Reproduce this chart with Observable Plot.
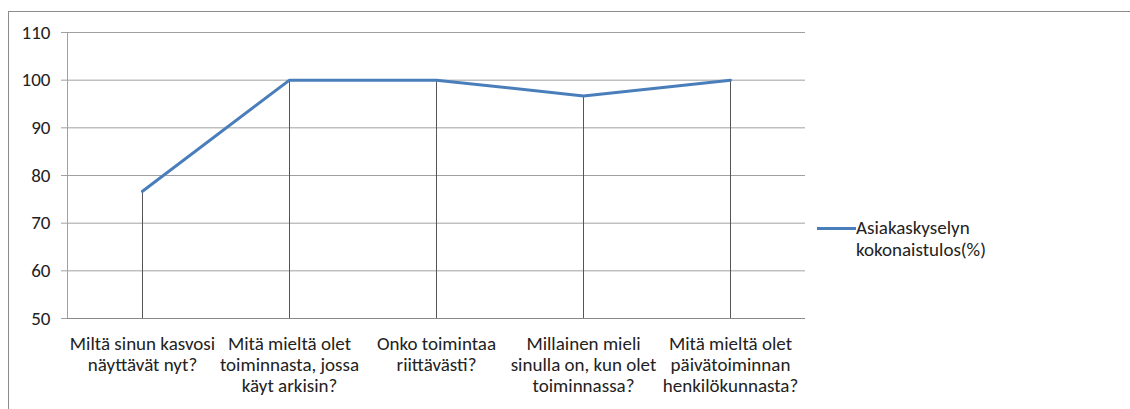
<!DOCTYPE html>
<html>
<head>
<meta charset="utf-8">
<script src="https://cdn.jsdelivr.net/npm/d3@7"></script>
<script src="https://cdn.jsdelivr.net/npm/@observablehq/plot@0.6"></script>
<style>
  html, body { margin: 0; padding: 0; background: #fff; }
  #wrap { position: relative; width: 1130px; height: 409px; overflow: hidden; font-family: Carlito, Lato, sans-serif; }
  #border { position: absolute; left: 8px; top: 11px; width: 1200px; height: 500px; border: 1px solid #8c8c8c; box-sizing: border-box; }
  #chart { position: absolute; left: 0; top: 0; }
  #legend { position: absolute; left: 817px; top: 217px; display: flex; align-items: flex-start; font-size: 19px; color: #222; line-height: 22px; }
  #legend .sw { width: 39px; height: 3px; background: #4a7ebb; margin-top: 10px; }
</style>
</head>
<body>
<div id="wrap">
  <div id="border"></div>
  <div id="chart"></div>
  <div id="legend"><div class="sw"></div><div id="legtext"></div></div>
</div>
<script>
const categories = [
  "Miltä sinun kasvosi\nnäyttävät nyt?",
  "Mitä mieltä olet\ntoiminnasta, jossa\nkäyt arkisin?",
  "Onko toimintaa\nriittävästi?",
  "Millainen mieli\nsinulla on, kun olet\ntoiminnassa?",
  "Mitä mieltä olet\npäivätoiminnan\nhenkilökunnasta?"
];
const values = [76.7, 100, 100, 96.7, 100];
const yTicks = [50, 60, 70, 80, 90, 100, 110];
const seriesName = "Asiakaskyselyn\nkokonaistulos(%)";

const data = categories.map((c, i) => ({cat: c, v: values[i]}));

const chart = Plot.plot({
  width: 1130,
  height: 409,
  marginLeft: 67,
  marginRight: 325,
  marginTop: 32,
  marginBottom: 91,
  style: {fontFamily: "Carlito, Lato, sans-serif", fontSize: "19px", color: "#222", background: "transparent", overflow: "visible"},
  x: {type: "point", domain: categories, padding: 0.5},
  y: {domain: [50, 110]},
  marks: [
    Plot.gridY(yTicks, {stroke: "#a0a0a0", strokeOpacity: 1, strokeWidth: 1}),
    Plot.frame({anchor: "left", stroke: "#a0a0a0"}),
    Plot.axisY({ticks: yTicks, tickSize: 6, tickPadding: 11, stroke: "#a0a0a0", fill: "#222", fontSize: 19, label: null}),
    Plot.ruleX(data, {x: "cat", y1: 50, y2: "v", stroke: "#555", strokeWidth: 1}),
    Plot.ruleY([50], {stroke: "#8a8a8a"}),
    Plot.line(data, {x: "cat", y: "v", stroke: "#4a7ebb", strokeWidth: 3, strokeLinejoin: "round"}),
    Plot.axisX({tickSize: 0, tickPadding: 16, fontSize: 19, lineHeight: 1.12, fill: "#222", label: null, lineAnchor: "top"})
  ]
});
document.getElementById("chart").appendChild(chart);
document.getElementById("legtext").innerHTML = seriesName.split("\n").join("<br>");
</script>
</body>
</html>
